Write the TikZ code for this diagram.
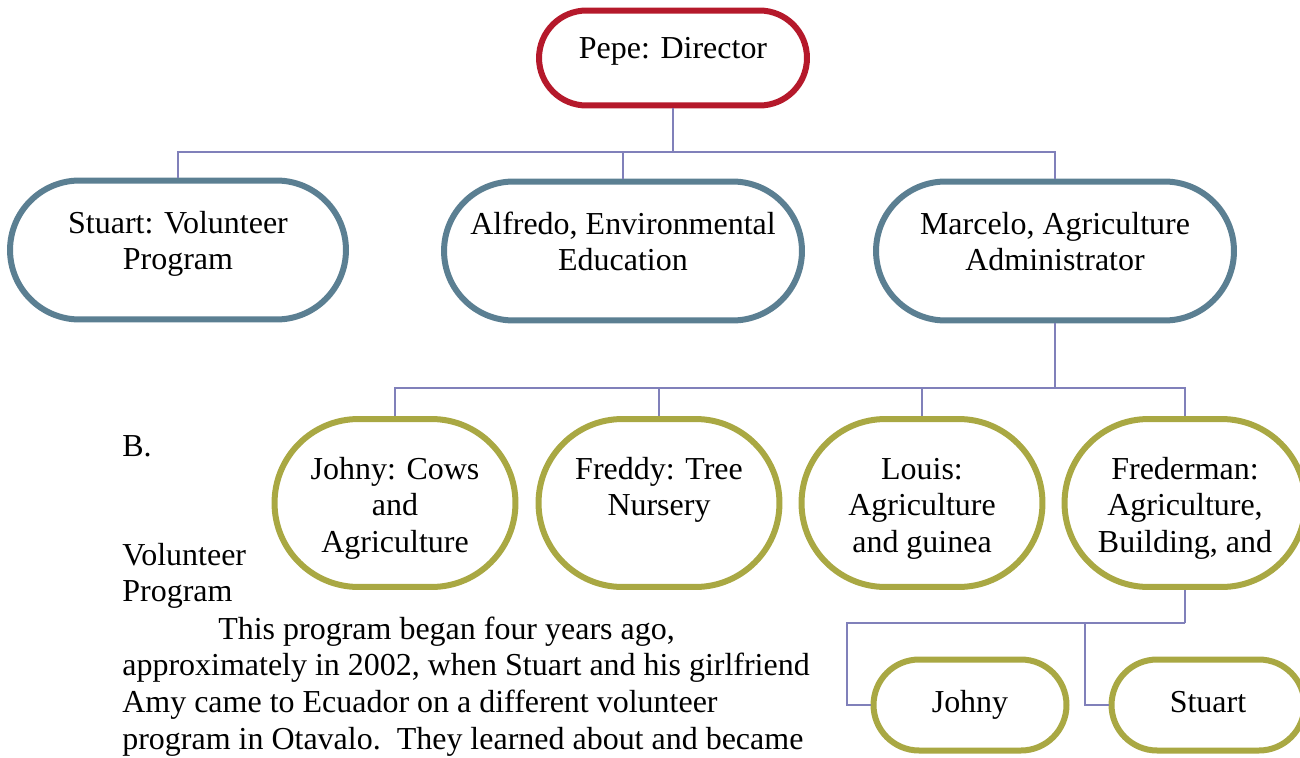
\documentclass[tikz,border=0pt]{standalone}
\usepackage{fontspec}
\setmainfont{Liberation Serif}
\definecolor{dirred}{RGB}{181,25,43}
\definecolor{headblue}{RGB}{91,127,146}
\definecolor{staffolive}{RGB}{169,168,67}
\definecolor{linkblue}{RGB}{128,128,186}
\newcommand{\orgtext}[1]{\begin{tabular}[t]{@{}c@{}}#1\end{tabular}}
\newcommand{\bodytext}[1]{\begin{tabular}[t]{@{}l@{}}#1\end{tabular}}
\begin{document}
\begin{tikzpicture}[x=0.02cm, y=-0.02cm, every node/.style={font=\fontsize{18.2}{21}\selectfont},
  pill/.style={draw, line width=0.12cm, fill=white, rounded corners=#1},
  dirbox/.style={pill=0.95cm, draw=dirred, minimum width=5.36cm, minimum height=1.9cm, text height=0.42cm, text depth=0.38cm},
  headbox/.style={pill=1.39cm, draw=headblue, minimum width=7.16cm, minimum height=2.78cm, text height=0.4cm, text depth=1.08cm},
  staffbox/.style={pill=1.68cm, draw=staffolive, minimum width=4.82cm, minimum height=3.36cm, text height=0.4cm, text depth=1.36cm},
  helperbox/.style={pill=0.91cm, draw=staffolive, minimum width=3.86cm, minimum height=1.82cm, text height=0.5cm, text depth=0.22cm},
  link/.style={draw=linkblue, line width=0.04cm},
  txt/.style={anchor=base west, inner sep=0pt}]
  \useasboundingbox (0,0) rectangle (1300,757);
  \node[dirbox] (pepe) at (673,58) {Pepe: Director};
  \node[headbox,minimum width=6.72cm] (stuart) at (178,250) {\orgtext{Stuart: Volunteer\\Program}};
  \node[headbox] (alfredo) at (623,251) {\orgtext{Alfredo, Environmental\\Education}};
  \node[headbox] (marcelo) at (1055,251) {\orgtext{Marcelo, Agriculture\\Administrator}};
  \node[staffbox] (johny) at (395,503) {\orgtext{Johny: Cows\\and\\Agriculture}};
  \node[staffbox] (freddy) at (659,503) {\orgtext{Freddy: Tree\\Nursery}};
  \node[staffbox] (louis) at (922,503) {\orgtext{Louis:\\Agriculture\\and guinea}};
  \node[staffbox] (fred) at (1185,503) {\orgtext{Frederman:\\Agriculture,\\Building, and}};
  \node[helperbox] (johnyb) at (970,705) {Johny};
  \node[helperbox] (stuartb) at (1208,705) {Stuart};
  % tree lines
  \draw[link] (pepe.south) -- ++(0,44) coordinate (bus1);
  \foreach \n in {stuart,alfredo,marcelo} \draw[link] (bus1) -| (\n.north);
  \draw[link] (marcelo.south) -- ++(0,65) coordinate (bus2);
  \foreach \n in {johny,freddy,louis,fred} \draw[link] (bus2) -| (\n.north);
  \draw[link] (fred.south) -- ++(0,33) coordinate (bus3);
  \foreach \n in {johnyb,stuartb} \draw[link] (bus3) -| ([xshift=-0.48cm]\n.west) -- (\n.west);
  % running text
  \node[txt] (bmark) at (122,456) {B.};
  \node[txt] (voltitle) at (122,565) {\bodytext{Volunteer\\Program}};
  \node[txt] (story) at (122,639) {\bodytext{\hspace*{1.92cm}This program began four years ago,\\approximately in 2002, when Stuart and his girlfriend\\Amy came to Ecuador on a different volunteer\\program in Otavalo.\ \ They learned about and became}};
\end{tikzpicture}
\end{document}
